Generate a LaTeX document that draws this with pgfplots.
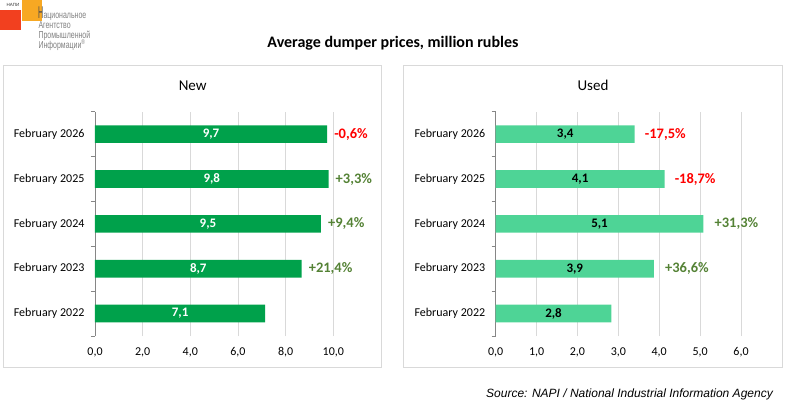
\documentclass[border=0pt]{standalone}
\usepackage{pgfplots}
\pgfplotsset{compat=1.18}
\usepackage{fontspec}
\setmainfont{Carlito}
\newfontfamily\arialfont{Liberation Sans}
\usepackage{graphicx}

\definecolor{barnew}{HTML}{00A14B}
\definecolor{barused}{HTML}{4ED496}
\definecolor{pgreen}{HTML}{548235}
\definecolor{pred}{HTML}{FF0000}
\definecolor{gridgray}{HTML}{D9D9D9}
\definecolor{axisgray}{HTML}{868686}
\definecolor{logored}{HTML}{F2401F}
\definecolor{logoorange}{HTML}{F7A823}
\definecolor{logotext}{HTML}{808080}

\pgfplotsset{
  panel/.style={
    scale only axis, height=224.3pt,
    xbar, bar width=17.7pt,
    ymin=0.5, ymax=5.5,
    axis lines*=left,
    x axis line style={draw=none},
    y axis line style={draw=axisgray, line width=0.8pt},
    ytick={1,...,5},
    yticklabels={February 2022,February 2023,February 2024,February 2025,February 2026},
    minor ytick={0.5,1.5,...,5.5},
    major tick length=0pt, minor tick length=4pt, tick align=outside,
    minor tick style={draw=axisgray, line width=0.8pt},
    xmajorgrids, major grid style={draw=gridgray, line width=0.8pt},
    tick label style={font=\fontsize{12}{14}\selectfont},
    yticklabel style={xshift=-7pt},
    xticklabel style={yshift=-8pt},
    /pgf/number format/.cd, use comma, fixed, fixed zerofill, precision=1, assume math mode=true,
  },
  valnode/.style={
    bar shift=0pt, point meta=explicit symbolic,
    visualization depends on={x \as \rawx},
    nodes near coords,
    every node near coord/.append style={anchor=center, xshift={-#1*\rawx},
      font=\bfseries\fontsize{13}{15}\selectfont},
  },
  pctnode/.style={
    bar shift=0pt, point meta=explicit symbolic, draw=none, fill=none,
    nodes near coords,
    every node near coord/.append style={anchor=west, inner sep=0pt, xshift=#1,
      font=\bfseries\fontsize{14.5}{16}\selectfont},
  },
}

\begin{document}
\begin{tikzpicture}
\path[use as bounding box] (0,0) rectangle (801pt,408pt);

% logo
\fill[logored] (0pt,378pt) rectangle (21pt,398pt);
\fill[logoorange] (21.7pt,387.3pt) rectangle (41.7pt,408pt);
\node[anchor=base west, inner sep=0pt, text=black!80] at (6.5pt,401.5pt)
  {\arialfont\fontsize{4.5}{5}\selectfont НАПИ};
\node[anchor=base west, inner sep=0pt, text=black!70] at (37.8pt,389pt)
  {\arialfont\scalebox{0.42}[1]{\fontsize{17}{17}\selectfont Н}};
\node[anchor=base west, inner sep=0pt, text=logotext] at (43.3pt,389pt)
  {\arialfont\scalebox{0.7}[1]{\fontsize{10}{10}\selectfont ациональное}};
\node[anchor=base west, inner sep=0pt, text=logotext] at (38.3pt,379pt)
  {\arialfont\scalebox{0.7}[1]{\fontsize{10}{10}\selectfont Агентство}};
\node[anchor=base west, inner sep=0pt, text=logotext] at (38.3pt,369.5pt)
  {\arialfont\scalebox{0.7}[1]{\fontsize{10}{10}\selectfont Промышленной}};
\node[anchor=base west, inner sep=0pt, text=logotext] at (38.3pt,359.5pt)
  {\arialfont\scalebox{0.7}[1]{\fontsize{10}{10}\selectfont Информации\textsuperscript{®}}};

% titles and frames
\node[font=\bfseries\fontsize{16}{18}\selectfont] at (393pt,365pt) {Average dumper prices, million rubles};
\draw[gridgray, line width=0.8pt] (3.5pt,41pt) rectangle (381pt,343pt);
\draw[gridgray, line width=0.8pt] (403pt,41pt) rectangle (782pt,343pt);
\node[font=\fontsize{15}{17}\selectfont] at (192.7pt,322.3pt) {New};
\node[font=\fontsize{15}{17}\selectfont] at (593pt,322.3pt) {Used};
\node[anchor=east, inner sep=0pt, font=\arialfont\itshape\fontsize{12}{14}\selectfont] at (773pt,14pt)
  {Source: NAPI / National Industrial Information Agency};

% New
\begin{axis}[panel, at={(95pt,72pt)}, anchor=south west, width=238.3pt,
  xmin=0, xmax=10, xtick={0,2,...,10}]
\addplot[fill=barnew, draw=none, valnode=11.915,
  every node near coord/.append style={text=white}] coordinates {
  (7.14,1) [7,1]
  (8.67,2) [8,7]
  (9.48,3) [9,5]
  (9.80,4) [9,8]
  (9.74,5) [9,7]
};
\addplot[pctnode=7pt, every node near coord/.append style={text=pgreen}] coordinates {
  (8.67,2) [+21,4\%]
  (9.48,3) [+9,4\%]
  (9.80,4) [+3,3\%]
};
\addplot[pctnode=7pt, every node near coord/.append style={text=pred}] coordinates {
  (9.74,5) [-0,6\%]
};
\end{axis}

% Used
\begin{axis}[panel, at={(495.7pt,72pt)}, anchor=south west, width=245.3pt,
  xmin=0, xmax=6, xtick={0,1,...,6}]
\addplot[fill=barused, draw=none, valnode=20.44,
  every node near coord/.append style={text=black}] coordinates {
  (2.83,1) [2,8]
  (3.87,2) [3,9]
  (5.08,3) [5,1]
  (4.13,4) [4,1]
  (3.40,5) [3,4]
};
\addplot[pctnode=11pt, every node near coord/.append style={text=pgreen}] coordinates {
  (3.87,2) [+36,6\%]
  (5.08,3) [+31,3\%]
};
\addplot[pctnode=10pt, every node near coord/.append style={text=pred}] coordinates {
  (4.13,4) [-18,7\%]
  (3.40,5) [-17,5\%]
};
\end{axis}
\end{tikzpicture}
\end{document}
